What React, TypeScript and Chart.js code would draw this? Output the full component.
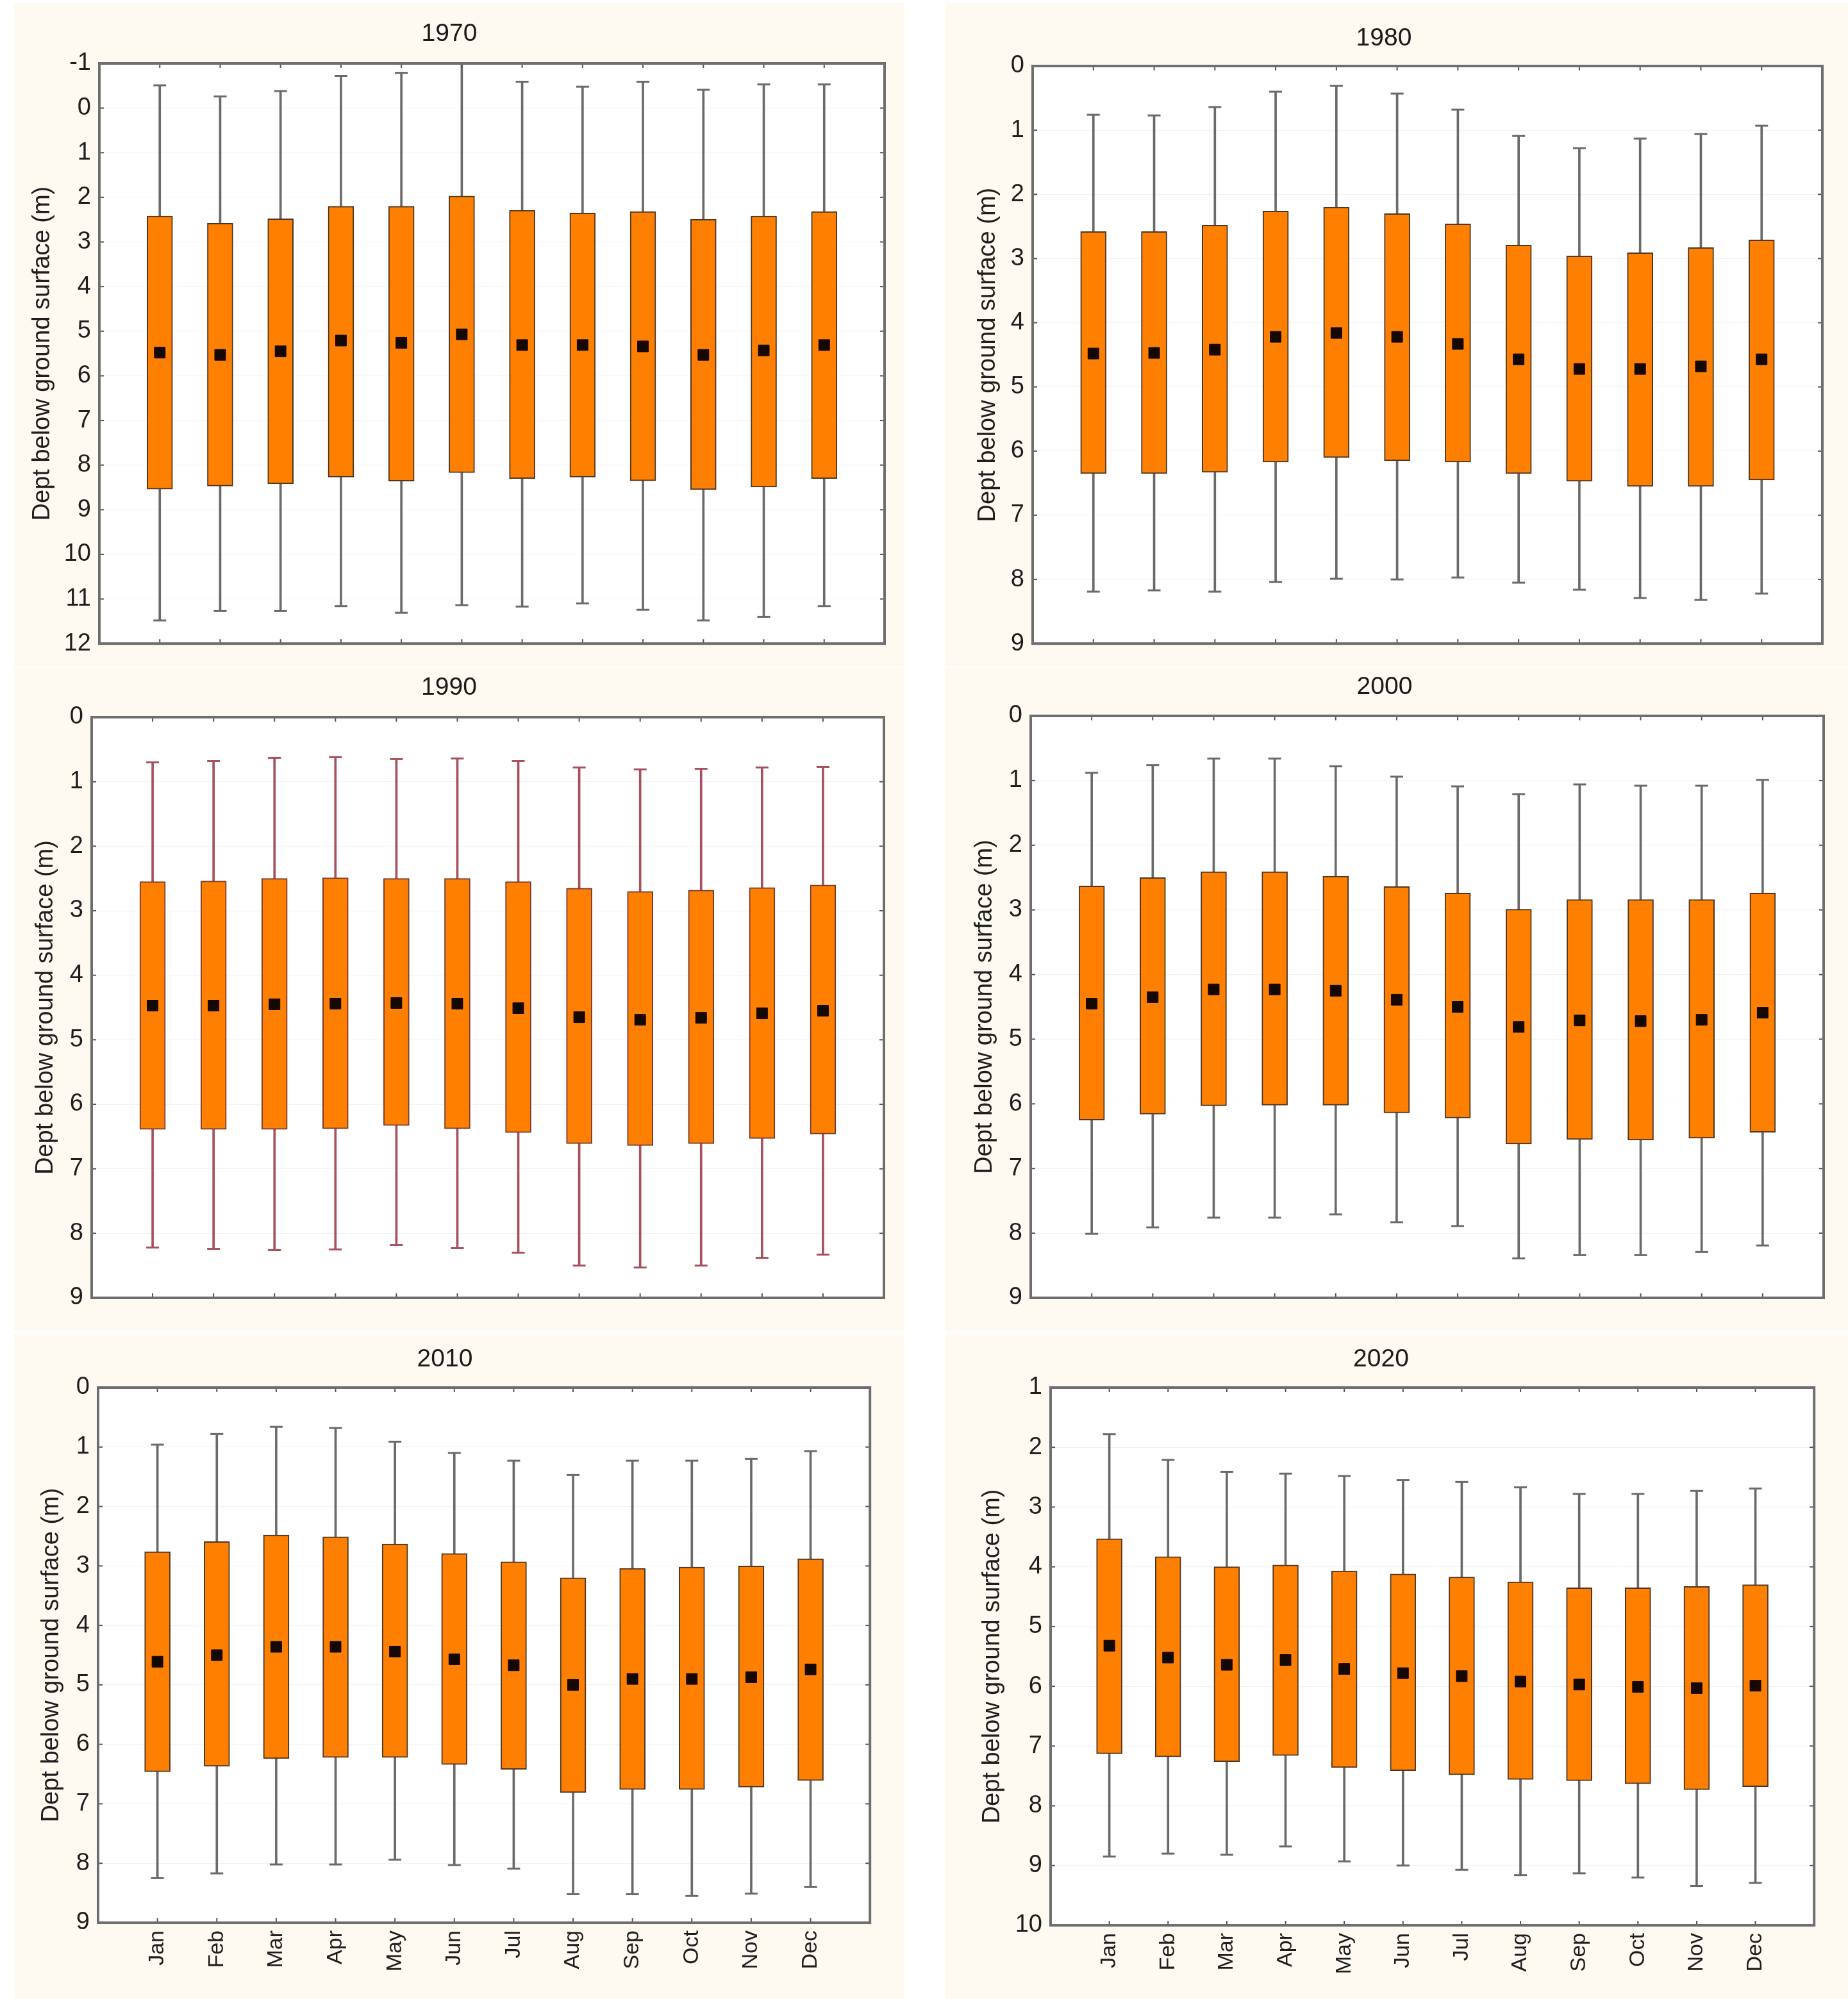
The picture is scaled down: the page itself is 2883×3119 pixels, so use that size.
import React, { useEffect, useRef } from 'react';
import { Chart, registerables } from 'chart.js';

Chart.register(...registerables);

const MONTHS = ['Jan', 'Feb', 'Mar', 'Apr', 'May', 'Jun', 'Jul', 'Aug', 'Sep', 'Oct', 'Nov', 'Dec'];
const YEARS = ['1970', '1980', '1990', '2000', '2010', '2020'];
const AXIS_TITLE = 'Dept below ground surface (m)';

// y-axis ranges (depth, reversed axis)
const Y_MIN = [-1, 0, 0, 0, 0, 1];
const Y_MAX = [12, 9, 9, 9, 9, 10];

// 1970
const WTOP_1970 = [-0.51, -0.26, -0.38, -0.72, -0.79, -1.0, -0.59, -0.48, -0.59, -0.41, -0.53, -0.53];
const BOXTOP_1970 = [2.42, 2.58, 2.48, 2.2, 2.2, 1.97, 2.29, 2.35, 2.32, 2.49, 2.42, 2.32];
const MID_1970 = [5.48, 5.53, 5.45, 5.21, 5.26, 5.07, 5.31, 5.31, 5.34, 5.53, 5.43, 5.31];
const BOXBOT_1970 = [8.54, 8.47, 8.42, 8.27, 8.36, 8.17, 8.3, 8.27, 8.35, 8.55, 8.49, 8.3];
const WBOT_1970 = [11.48, 11.27, 11.27, 11.16, 11.31, 11.14, 11.17, 11.1, 11.24, 11.48, 11.4, 11.16];

// 1980
const WTOP_1980 = [0.76, 0.77, 0.64, 0.4, 0.31, 0.43, 0.68, 1.09, 1.28, 1.13, 1.06, 0.93];
const BOXTOP_1980 = [2.58, 2.58, 2.48, 2.26, 2.2, 2.3, 2.46, 2.79, 2.96, 2.91, 2.83, 2.71];
const MID_1980 = [4.48, 4.47, 4.42, 4.22, 4.16, 4.22, 4.33, 4.57, 4.72, 4.72, 4.68, 4.57];
const BOXBOT_1980 = [6.35, 6.35, 6.33, 6.17, 6.1, 6.15, 6.17, 6.35, 6.47, 6.55, 6.55, 6.45];
const WBOT_1980 = [8.19, 8.17, 8.19, 8.04, 7.99, 8.0, 7.97, 8.05, 8.16, 8.29, 8.32, 8.22];

// 1990
const WTOP_1990 = [0.7, 0.68, 0.63, 0.62, 0.65, 0.64, 0.68, 0.78, 0.81, 0.8, 0.78, 0.77];
const BOXTOP_1990 = [2.55, 2.54, 2.5, 2.49, 2.5, 2.5, 2.55, 2.65, 2.7, 2.68, 2.64, 2.6];
const MID_1990 = [4.47, 4.47, 4.45, 4.44, 4.43, 4.44, 4.51, 4.65, 4.69, 4.66, 4.59, 4.55];
const BOXBOT_1990 = [6.39, 6.39, 6.39, 6.38, 6.33, 6.38, 6.44, 6.61, 6.64, 6.61, 6.53, 6.46];
const WBOT_1990 = [8.22, 8.24, 8.26, 8.25, 8.18, 8.23, 8.3, 8.5, 8.53, 8.5, 8.38, 8.33];

// 2000
const WTOP_2000 = [0.88, 0.76, 0.66, 0.66, 0.78, 0.94, 1.09, 1.21, 1.06, 1.08, 1.08, 0.99];
const BOXTOP_2000 = [2.63, 2.5, 2.41, 2.41, 2.48, 2.64, 2.74, 2.99, 2.84, 2.84, 2.84, 2.74];
const MID_2000 = [4.45, 4.35, 4.23, 4.23, 4.25, 4.39, 4.5, 4.81, 4.71, 4.72, 4.7, 4.59];
const BOXBOT_2000 = [6.25, 6.16, 6.03, 6.02, 6.02, 6.14, 6.22, 6.62, 6.55, 6.56, 6.53, 6.44];
const WBOT_2000 = [8.01, 7.91, 7.76, 7.76, 7.71, 7.83, 7.89, 8.39, 8.34, 8.34, 8.29, 8.19];

// 2010
const WTOP_2010 = [0.96, 0.78, 0.66, 0.68, 0.91, 1.1, 1.23, 1.47, 1.23, 1.23, 1.2, 1.07];
const BOXTOP_2010 = [2.76, 2.59, 2.48, 2.51, 2.63, 2.79, 2.93, 3.2, 3.04, 3.02, 3.0, 2.88];
const MID_2010 = [4.61, 4.5, 4.36, 4.36, 4.44, 4.57, 4.67, 5.0, 4.9, 4.9, 4.87, 4.74];
const BOXBOT_2010 = [6.46, 6.37, 6.24, 6.22, 6.22, 6.34, 6.42, 6.81, 6.76, 6.76, 6.72, 6.61];
const WBOT_2010 = [8.25, 8.17, 8.02, 8.02, 7.94, 8.03, 8.09, 8.52, 8.52, 8.55, 8.51, 8.4];

// 2020
const WTOP_2020 = [1.78, 2.21, 2.41, 2.44, 2.48, 2.55, 2.58, 2.67, 2.78, 2.78, 2.73, 2.69];
const BOXTOP_2020 = [3.53, 3.83, 4.0, 3.97, 4.07, 4.12, 4.17, 4.25, 4.35, 4.35, 4.33, 4.3];
const MID_2020 = [5.32, 5.52, 5.64, 5.56, 5.71, 5.78, 5.83, 5.92, 5.97, 6.01, 6.03, 5.99];
const BOXBOT_2020 = [7.13, 7.18, 7.26, 7.16, 7.36, 7.41, 7.48, 7.56, 7.58, 7.63, 7.73, 7.68];
const WBOT_2020 = [8.85, 8.8, 8.82, 8.68, 8.93, 9.0, 9.07, 9.16, 9.13, 9.2, 9.34, 9.29];

const SERIES = [
  [WTOP_1970, BOXTOP_1970, MID_1970, BOXBOT_1970, WBOT_1970],
  [WTOP_1980, BOXTOP_1980, MID_1980, BOXBOT_1980, WBOT_1980],
  [WTOP_1990, BOXTOP_1990, MID_1990, BOXBOT_1990, WBOT_1990],
  [WTOP_2000, BOXTOP_2000, MID_2000, BOXBOT_2000, WBOT_2000],
  [WTOP_2010, BOXTOP_2010, MID_2010, BOXBOT_2010, WBOT_2010],
  [WTOP_2020, BOXTOP_2020, MID_2020, BOXBOT_2020, WBOT_2020],
];

// ---- layout (pixels on the page) ----
// canvas: [x0, y0, x1, y1]; plot: [left, top, right, bottom]
const LAYOUT = [
  { canvas: [22, 5, 1410, 1040], plot: [155, 99, 1380, 1011], titleY: 53, axisTitleX: 67, showX: false },
  { canvas: [1475, 5, 2883, 1040], plot: [1611, 103, 2843, 1010], titleY: 60, axisTitleX: 1542, showX: false },
  { canvas: [22, 1042, 1410, 2076], plot: [143, 1119, 1379, 2025], titleY: 1073, axisTitleX: 72, showX: false },
  { canvas: [1475, 1042, 2883, 2076], plot: [1608, 1117, 2845, 2025], titleY: 1072, axisTitleX: 1537, showX: false },
  { canvas: [22, 2082, 1410, 3119], plot: [153, 2165, 1366, 3000], titleY: 2121, axisTitleX: 81, showX: true },
  { canvas: [1475, 2082, 2883, 3119], plot: [1639, 2165, 2834, 3004], titleY: 2121, axisTitleX: 1549, showX: true },
];

const FONT = '"Liberation Sans", Arial, Helvetica, sans-serif';
const CREAM = '#fefaf1';
const ORANGE = '#ff8000';
const FRAME = '#6e6e6e';
const TITLE_SIZE = 39;
const AXIS_TITLE_SIZE = 38;
const TICK_SIZE = 38;

const pad = (arr: any[]) => [null, ...arr, null];

const framePlugin = {
  id: 'panelFrame',
  beforeDraw(chart: any) {
    const { ctx, chartArea: a, width, height } = chart;
    ctx.save();
    ctx.fillStyle = CREAM;
    ctx.fillRect(0, 0, width, height);
    ctx.fillStyle = '#ffffff';
    ctx.fillRect(a.left, a.top, a.right - a.left, a.bottom - a.top);
    ctx.restore();
  },
  afterDraw(chart: any) {
    const { ctx, chartArea: a, scales } = chart;
    ctx.save();
    ctx.strokeStyle = '#555555';
    ctx.lineWidth = 2;
    const seg = (x0: number, y0: number, x1: number, y1: number) => {
      ctx.beginPath();
      ctx.moveTo(x0, y0);
      ctx.lineTo(x1, y1);
      ctx.stroke();
    };
    const ys = scales.y;
    ys.ticks.forEach((_t: any, i: number) => {
      const py = ys.getPixelForTick(i);
      seg(a.left, py, a.left + 7, py);
      seg(a.right - 7, py, a.right, py);
    });
    const xs = scales.x;
    xs.ticks.forEach((_t: any, i: number) => {
      if (!chart.data.labels[i]) return;
      const px = xs.getPixelForTick(i);
      seg(px, a.top, px, a.top + 7);
      seg(px, a.bottom - 7, px, a.bottom);
    });
    ctx.strokeStyle = FRAME;
    ctx.lineWidth = 4;
    ctx.strokeRect(a.left, a.top, a.right - a.left, a.bottom - a.top);
    ctx.restore();
  },
};

function Panel({ idx }: { idx: number }) {
  const ref = useRef<HTMLCanvasElement | null>(null);
  const lay = LAYOUT[idx];
  const [cx0, cy0, cx1, cy1] = lay.canvas;
  const [pl, pt, pr, pb] = lay.plot;
  const w = cx1 - cx0;
  const h = cy1 - cy0;

  useEffect(() => {
    const [wTop, bTop, mid, bBot, wBot] = SERIES[idx];
    const red = idx === 2;
    const whiskerColor = red ? '#a8505c' : '#6a6a6a';
    const boxBorder = red ? '#7a3a30' : '#4e3624';
    const titleLH = TITLE_SIZE * 1.2;
    const titlePadTop = lay.titleY - cy0 - titleLH / 2;
    const titlePadBottom = pt - cy0 - titlePadTop - titleLH;
    const axisLH = AXIS_TITLE_SIZE * 1.2;
    const axisTitlePad = lay.axisTitleX - cx0 - axisLH / 2;

    const chart = new Chart(ref.current as HTMLCanvasElement, {
      type: 'bar',
      data: {
        labels: ['', ...MONTHS, ''],
        datasets: [
          {
            type: 'bar',
            data: pad(wTop.map((v, i) => [v, wBot[i]])),
            backgroundColor: whiskerColor,
            borderWidth: 0,
            barThickness: 3,
            grouped: false,
            order: 4,
          } as any,
          {
            type: 'bar',
            data: pad(bTop.map((v, i) => [v, bBot[i]])),
            backgroundColor: ORANGE,
            borderColor: boxBorder,
            borderWidth: 2,
            borderSkipped: false,
            barThickness: 40,
            grouped: false,
            order: 3,
          } as any,
          {
            type: 'line',
            data: pad(wTop),
            showLine: false,
            pointStyle: 'line',
            pointRadius: 10,
            pointBorderWidth: 3,
            pointBorderColor: whiskerColor,
            pointBackgroundColor: whiskerColor,
            clip: false,
            order: 2,
          } as any,
          {
            type: 'line',
            data: pad(wBot),
            showLine: false,
            pointStyle: 'line',
            pointRadius: 10,
            pointBorderWidth: 3,
            pointBorderColor: whiskerColor,
            pointBackgroundColor: whiskerColor,
            clip: false,
            order: 2,
          } as any,
          {
            type: 'line',
            data: pad(mid),
            showLine: false,
            pointStyle: 'rect',
            pointRadius: 12,
            pointBorderWidth: 1,
            pointBorderColor: '#140800',
            pointBackgroundColor: '#140800',
            clip: false,
            order: 1,
          } as any,
        ],
      },
      options: {
        responsive: false,
        animation: false,
        events: [],
        layout: { padding: { left: 0, right: cx1 - pr, top: 0, bottom: 0 } },
        plugins: {
          legend: { display: false },
          tooltip: { enabled: false },
          title: {
            display: true,
            text: YEARS[idx],
            color: '#1a1a1a',
            font: { family: FONT, size: TITLE_SIZE, weight: 'normal' },
            padding: { top: titlePadTop, bottom: titlePadBottom },
          },
        },
        scales: {
          x: {
            type: 'category',
            offset: false,
            grid: { display: false, drawTicks: false },
            border: { display: false },
            ticks: {
              display: lay.showX,
              autoSkip: false,
              minRotation: 90,
              maxRotation: 90,
              padding: 12,
              color: '#1e1e1e',
              font: { family: FONT, size: 34 },
            },
            afterFit: (s: any) => {
              s.height = cy1 - pb;
            },
          },
          y: {
            type: 'linear',
            reverse: true,
            min: Y_MIN[idx],
            max: Y_MAX[idx],
            grid: { color: 'rgba(0,0,0,0.05)', drawTicks: false },
            border: { display: false },
            ticks: {
              stepSize: 1,
              padding: 13,
              color: '#1e1e1e',
              font: { family: FONT, size: TICK_SIZE },
            },
            title: {
              display: true,
              text: AXIS_TITLE,
              color: '#1e1e1e',
              font: { family: FONT, size: AXIS_TITLE_SIZE },
              padding: { top: axisTitlePad, bottom: 0 },
            },
            afterFit: (s: any) => {
              s.width = pl - cx0;
            },
          },
        },
      } as any,
      plugins: [framePlugin],
    });
    return () => chart.destroy();
  }, [idx]);

  return (
    <div style={{ position: 'absolute', left: cx0, top: cy0, width: w, height: h }}>
      <canvas ref={ref} width={w} height={h} style={{ width: w, height: h, display: 'block' }} />
    </div>
  );
}

export default function App() {
  return (
    <div style={{ position: 'absolute', left: 0, top: 0, width: 2883, height: 3119, background: '#ffffff', overflow: 'hidden' }}>
      {YEARS.map((_y, i) => (
        <Panel key={i} idx={i} />
      ))}
    </div>
  );
}
